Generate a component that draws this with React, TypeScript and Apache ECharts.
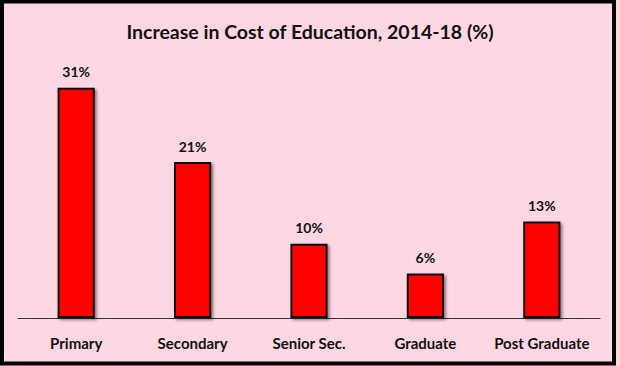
import React, { useEffect, useRef } from "react";
import * as echarts from "echarts";

const categories = ["Primary", "Secondary", "Senior Sec.", "Graduate", "Post Graduate"];
const values = [31, 21, 10, 6, 13];
const titleText = "Increase in Cost of Education, 2014-18 (%)";

export default function App() {
  const ref = useRef<HTMLDivElement>(null);
  useEffect(() => {
    if (!ref.current) return;
    const chart = echarts.init(ref.current, null, { renderer: "svg" });
    const font = "Lato, 'Open Sans', sans-serif";
    chart.setOption({
      animation: false,
      backgroundColor: "#FFD7E3",
      title: {
        text: titleText,
        left: "center",
        top: 16,
        textStyle: { fontFamily: font, fontSize: 19.5, fontWeight: "bold", color: "#111" },
      },
      grid: { left: 18, right: 20, top: 58, bottom: 48 },
      xAxis: {
        type: "category",
        data: categories,
        axisLine: { lineStyle: { color: "#333", width: 1 } },
        axisTick: { show: false },
        axisLabel: { fontFamily: font, fontSize: 15, fontWeight: "bold", color: "#111", margin: 17, interval: 0 },
      },
      yAxis: {
        type: "value",
        min: 0,
        max: 35,
        show: false,
        splitLine: { show: false },
      },
      series: [
        {
          type: "bar",
          data: values,
          barWidth: "32%",
          itemStyle: {
            color: "#FF0000",
            borderColor: "#111",
            borderWidth: 2,
            shadowColor: "rgba(0,0,0,0.45)",
            shadowBlur: 3,
            shadowOffsetX: 2,
            shadowOffsetY: 2,
          },
          label: {
            show: true,
            position: "top",
            distance: 9,
            formatter: "{c}%",
            fontFamily: font,
            fontSize: 14,
            fontWeight: "bold",
            color: "#111",
          },
        },
      ],
      graphic: [
        {
          type: "rect",
          shape: { x: 2, y: 1.5, width: 612, height: 362 },
          style: { fill: "none", stroke: "#000", lineWidth: 4 },
          silent: true,
        },
      ],
    });
    return () => chart.dispose();
  }, []);
  return (
    <div
      ref={ref}
      style={{ position: "absolute", left: 0, top: 0, width: 620, height: 366 }}
    />
  );
}
